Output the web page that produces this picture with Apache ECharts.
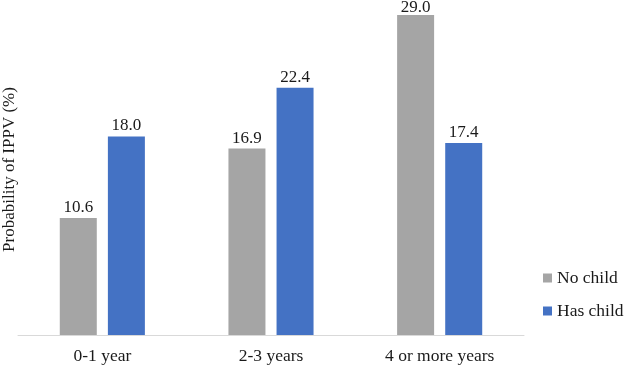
<!DOCTYPE html>
<html>
<head>
<meta charset="utf-8">
<script src="https://cdn.jsdelivr.net/npm/echarts@6/dist/echarts.min.js"></script>
<style>
  html, body { margin: 0; padding: 0; background: #fff; }
  #main { width: 624px; height: 366px; }
</style>
</head>
<body>
<div id="main"></div>
<script>
// categories and values
const categories = ['0-1 year', '2-3 years', '4 or more years'];
const noChild = [10.6, 16.9, 29.0];
const hasChild = [18.0, 22.4, 17.4];

const font = 'Liberation Serif';
const chart = echarts.init(document.getElementById('main'));

const labelStyle = {
  show: true,
  position: 'top',
  distance: 2,
  fontFamily: font,
  fontSize: 17,
  color: '#1a1a1a',
  formatter: p => Number(p.value).toFixed(1)
};

// the tallest label sits squeezed against the top in the original
const noChildData = noChild.map(v => v >= 28 ? { value: v, label: { distance: -1 } } : v);

chart.setOption({
  animation: false,
  textStyle: { fontFamily: font },
  legend: {
    orient: 'vertical',
    left: 543,
    top: 269,
    padding: 0,
    itemWidth: 9,
    itemHeight: 9,
    itemGap: 15,
    icon: 'rect',
    textStyle: { fontFamily: font, fontSize: 17.5, color: '#1a1a1a' },
    data: ['No child', 'Has child']
  },
  grid: { left: 18, right: 100, top: 4, bottom: 31, outerBoundsMode: 'none' },
  xAxis: {
    type: 'category',
    data: categories,
    axisLine: { lineStyle: { color: '#d9d9d9', width: 1 } },
    axisTick: { show: false },
    axisLabel: { fontFamily: font, fontSize: 17.5, color: '#1a1a1a', margin: 12 }
  },
  yAxis: {
    type: 'value', min: 0, max: 30,
    name: 'Probability of IPPV (%)',
    nameLocation: 'middle',
    nameGap: 0,
    nameTextStyle: { fontFamily: font, fontSize: 17, color: '#1a1a1a' },
    axisLine: { show: false }, axisTick: { show: false },
    axisLabel: { show: false }, splitLine: { show: false }
  },
  series: [
    {
      name: 'No child', type: 'bar',
      data: noChildData, barWidth: 37, barGap: '30%',
      itemStyle: { color: '#a5a5a5' },
      label: labelStyle
    },
    {
      name: 'Has child', type: 'bar',
      data: hasChild, barWidth: 37, barGap: '30%',
      itemStyle: { color: '#4472c4' },
      label: labelStyle
    }
  ]
});
</script>
</body>
</html>
